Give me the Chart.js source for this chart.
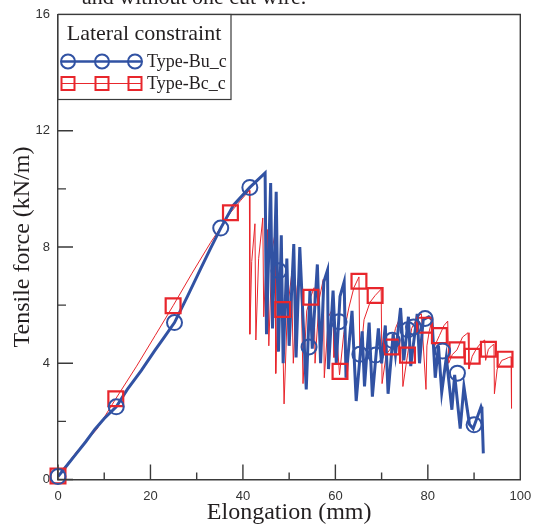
<!DOCTYPE html>
<html>
<head>
<meta charset="utf-8">
<script src="https://cdn.jsdelivr.net/npm/chart.js@4.4.0/dist/chart.umd.min.js"></script>
<style>
  html, body { margin: 0; padding: 0; background: #fff; }
  #wrap { position: relative; width: 533px; height: 526px; }
</style>
</head>
<body>
<div id="wrap"><canvas id="tensileChart"></canvas></div>
<script>
// ---- data ----
const buElong = [0,2,4,6,8,10,12.6,15,18,21,23,25.2,28,31,33,35.2,38,41.5,44.8,
  45.1,46.0,46.4,47.2,47.7,48.3,48.7,49.5,50.0,51.0,51.5,52.3,53.7,54.5,55.0,56.1,56.8,57.5,58.3,58.5,
  59.5,60.2,61.0,61.9,62.3,63.6,64.5,65.8,66.3,67.3,68.0,69.3,70.0,70.8,71.4,72.5,73.0,74.1,74.8,75.8,
  76.3,77.7,78.2,79.0,80.2,80.9,81.6,82.3,83.0,84.0,85.2,85.8,87.0,87.8,89.0,89.8,91.5,91.7,92.0];
const buForce = [0.1,0.5,0.9,1.3,1.73,2.1,2.5,3.1,3.75,4.45,4.9,5.4,6.3,7.3,7.95,8.65,9.45,10.05,10.55,
  5.0,10.2,5.2,9.9,4.4,8.4,4.0,7.6,4.6,8.1,4.2,8.0,3.1,6.5,4.5,7.4,4.0,6.8,7.2,3.8,
  6.5,4.0,6.3,6.8,3.5,5.8,2.7,5.1,3.2,5.4,2.85,5.2,4.0,5.3,2.95,5.0,4.3,5.9,4.1,5.6,
  3.9,5.7,4.0,5.5,5.6,5.5,3.5,4.6,3.0,4.2,2.4,3.6,1.75,3.2,1.9,1.75,2.5,2.4,0.9];

const bcElong = [0,4,8.4,12.5,17,21,24.9,29,33,37.3,39.5,41.4,
  41.5,41.9,42.6,42.8,43.4,44.3,44.5,45.3,45.6,46.3,47.0,47.1,47.6,48.3,48.9,49.6,50.5,50.9,51.7,52.5,
  53.0,53.8,54.7,55.4,55.6,56.5,57.4,57.6,58.5,59.5,59.7,60.3,60.9,61.8,62.9,64.0,65.1,65.3,66.2,67.5,
  68.6,69.9,70.1,71.0,72.2,73.0,74.3,74.6,75.6,76.5,77.8,78.6,79.6,79.8,80.3,80.9,81.2,82.5,83.5,84.3,
  84.5,85.3,86.3,87.5,88.7,88.9,89.6,90.5,91.5,92.3,92.5,93.1,93.8,94.3,94.4,95.0,96.0,96.7,97.5,98.0,98.1];
const bcForce = [0.12,0.95,1.73,2.78,3.9,4.95,5.98,7.1,8.15,9.18,9.6,9.95,
  5.0,7.5,8.8,4.8,7.6,9.0,5.6,8.6,4.6,7.9,8.5,3.65,6.5,7.5,2.6,5.8,7.0,4.0,6.6,7.5,
  3.3,5.8,6.3,6.6,4.0,6.2,6.9,3.5,5.6,5.9,4.2,5.0,3.6,5.0,5.9,6.6,6.97,4.0,5.5,6.1,
  6.33,6.55,3.3,4.3,4.56,5.2,5.7,3.2,4.28,5.2,5.6,5.7,3.1,4.6,5.1,5.5,4.5,4.95,5.3,5.45,
  4.0,4.3,4.46,4.9,5.05,3.8,4.24,4.5,4.7,4.8,4.1,4.48,4.6,4.65,2.95,3.8,4.1,4.14,4.2,4.22,2.45];

const buMarkElong = [0,12.6,25.2,35.2,41.5,47.8,54.3,60.8,65.3,68.7,72.3,75.7,76.9,79.4,83.2,86.4,90.0];
const buMarkForce = [0.1,2.5,5.4,8.65,10.05,7.18,4.56,5.43,4.31,4.28,4.79,5.15,5.25,5.54,4.42,3.66,1.88];
const bcMarkElong = [0,12.5,24.9,37.3,48.6,54.7,61.0,65.1,68.6,72.2,75.6,79.3,82.5,86.3,89.6,93.1,96.7];
const bcMarkForce = [0.12,2.78,5.98,9.18,5.85,6.27,3.72,6.82,6.33,4.56,4.28,5.31,4.95,4.46,4.24,4.48,4.14];

const xMajor = [0, 20, 40, 60, 80, 100];
const xMinor = [10, 30, 50, 70, 90];
const yMajor = [0, 4, 8, 12, 16];
const yMinor = [2, 6, 10, 14];

const seriesNames = ['Type-Bu_c', 'Type-Bc_c'];
const legendTitle = 'Lateral constraint';
const captionText = 'and without one cut wire.';

const BLUE = '#3152a3';
const RED = '#e8262c';
const INK = '#231f20';

const zip = (xs, ys) => xs.map((x, i) => ({ x: x, y: ys[i] }));

//------------ frame, inward ticks, legend ------------
const frameTicks = {
  id: 'frameTicks',
  afterDraw(chart) {
    const { ctx, chartArea: a, scales: { x, y } } = chart;
    ctx.save();
    ctx.strokeStyle = '#3a3a3a';
    ctx.lineWidth = 1.4;
    ctx.beginPath();
    ctx.moveTo(a.left, a.top); ctx.lineTo(a.right, a.top); ctx.lineTo(a.right, a.bottom);
    xMajor.forEach(v => { const p = x.getPixelForValue(v); ctx.moveTo(p, a.bottom); ctx.lineTo(p, a.bottom - 15); });
    xMinor.forEach(v => { const p = x.getPixelForValue(v); ctx.moveTo(p, a.bottom); ctx.lineTo(p, a.bottom - 7); });
    yMajor.forEach(v => { const p = y.getPixelForValue(v); ctx.moveTo(a.left, p); ctx.lineTo(a.left + 15, p); });
    yMinor.forEach(v => { const p = y.getPixelForValue(v); ctx.moveTo(a.left, p); ctx.lineTo(a.left + 8, p); });
    ctx.stroke();

    // legend box
    const bx = a.left, by = a.top, bw = 173, bh = 85;
    ctx.fillStyle = '#fff';
    ctx.fillRect(bx, by, bw, bh);
    ctx.lineWidth = 1.2;
    ctx.strokeRect(bx, by, bw, bh);
    ctx.fillStyle = INK;
    ctx.font = '22px "Liberation Serif", "Times New Roman", serif';
    ctx.textAlign = 'center';
    ctx.textBaseline = 'middle';
    ctx.fillText(legendTitle, bx + 86, by + 20);

    ctx.font = '18px "Liberation Serif", "Times New Roman", serif';
    ctx.textAlign = 'left';
    const rows = [
      { name: seriesNames[0], color: BLUE, lw: 2.5, mark: 'circle', yy: by + 47 },
      { name: seriesNames[1], color: RED, lw: 1.2, mark: 'rect', yy: by + 69 }
    ];
    rows.forEach(r => {
      ctx.strokeStyle = r.color;
      ctx.lineWidth = r.lw;
      ctx.beginPath(); ctx.moveTo(bx + 4, r.yy); ctx.lineTo(bx + 84, r.yy); ctx.stroke();
      ctx.lineWidth = 2;
      [bx + 10, bx + 44, bx + 77].forEach(cx => {
        ctx.beginPath();
        if (r.mark === 'circle') ctx.arc(cx, r.yy, 7, 0, Math.PI * 2);
        else ctx.rect(cx - 6.5, r.yy - 6.5, 13, 13);
        ctx.stroke();
      });
      ctx.fillStyle = INK;
      ctx.fillText(r.name, bx + 89, r.yy + 1);
    });

    // caption cut by the top edge of the picture
    ctx.font = '22px "Liberation Serif", "Times New Roman", serif';
    ctx.textBaseline = 'alphabetic';
    ctx.fillText(captionText, 82, 4);
    ctx.restore();
  }
};

const tensileChart = new Chart(document.getElementById('tensileChart'), {
  type: 'line',
  data: {
    datasets: [
      { label: seriesNames[0] + ' marks', data: zip(buMarkElong, buMarkForce), showLine: false,
        pointStyle: 'circle', pointRadius: 7.5, pointBorderWidth: 2, pointBorderColor: BLUE,
        pointBackgroundColor: 'rgba(0,0,0,0)', clip: false, order: 0 },
      { label: seriesNames[1] + ' marks', data: zip(bcMarkElong, bcMarkForce), showLine: false,
        pointStyle: 'rect', pointRadius: 10.5, pointBorderWidth: 2.2, pointBorderColor: RED,
        pointBackgroundColor: 'rgba(0,0,0,0)', clip: false, order: 1 },
      { label: seriesNames[0], data: zip(buElong, buForce), borderColor: BLUE, borderWidth: 3,
        pointRadius: 0, tension: 0, order: 2 },
      { label: seriesNames[1], data: zip(bcElong, bcForce), borderColor: RED, borderWidth: 1,
        pointRadius: 0, tension: 0, order: 3 }
    ]
  },
  options: {
    responsive: true,
    maintainAspectRatio: false,
    animation: false,
    layout: { padding: { top: 14.5, right: 9, left: 0, bottom: 0 } },
    plugins: { legend: { display: false }, tooltip: { enabled: false } },
    scales: {
      x: {
        type: 'linear', min: 0, max: 100,
        afterFit: s => { s.height = 46.5; s.paddingLeft = 0; s.paddingRight = 0; },
        grid: { drawOnChartArea: false, drawTicks: false },
        border: { display: true, color: '#3a3a3a', width: 1.4 },
        ticks: { stepSize: 20, padding: 9, color: '#333', font: { family: '"Liberation Sans", Arial, sans-serif', size: 13 } },
        title: { display: true, text: 'Elongation (mm)', color: INK, padding: { top: 0, bottom: 0 },
          font: { family: '"Liberation Serif", "Times New Roman", serif', size: 24, lineHeight: 1.1 } }
      },
      y: {
        min: 0, max: 16,
        afterFit: s => { s.width = 58; s.paddingTop = 0; s.paddingBottom = 0; },
        grid: { drawOnChartArea: false, drawTicks: false },
        border: { display: true, color: '#3a3a3a', width: 1.4 },
        ticks: { stepSize: 4, padding: 8, color: '#333', font: { family: '"Liberation Sans", Arial, sans-serif', size: 13 } },
        title: { display: true, text: 'Tensile force (kN/m)', color: INK, padding: { top: 8, bottom: 0 },
          font: { family: '"Liberation Serif", "Times New Roman", serif', size: 24, lineHeight: 1.2 } }
      }
    }
  },
  plugins: [frameTicks]
});
</script>
</body>
</html>
